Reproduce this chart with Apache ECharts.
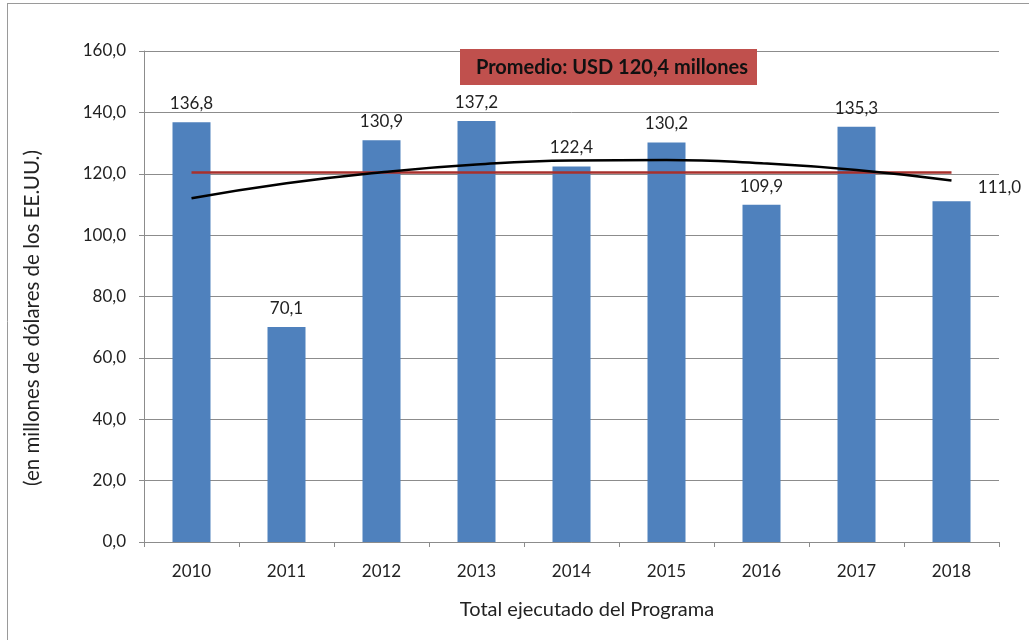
<!DOCTYPE html>
<html>
<head>
<meta charset="utf-8">
<script src="https://cdn.jsdelivr.net/npm/echarts@6/dist/echarts.min.js"></script>
<style>html,body{margin:0;padding:0;background:#fff}#c{width:1029px;height:640px}</style>
</head>
<body>
<div id="c"></div>
<script>
const categories = ['2010','2011','2012','2013','2014','2015','2016','2017','2018'];
const totals = [136.8, 70.1, 130.9, 137.2, 122.4, 130.2, 109.9, 135.3, 111.0];
const averageValue = 120.4;
const trendValues = [112.0, 116.9, 120.5, 123.0, 124.3, 124.5, 123.4, 121.2, 117.8];
const yTicks = { min: 0, max: 160, interval: 20 };
const avgLabel = 'Promedio: USD 120,4 millones';
const xTitle = 'Total ejecutado del Programa';
const yTitle = '(en millones de dólares de los EE.UU.)';

const FONT = 'Lato, "Noto Sans", sans-serif';
const fmt = v => v.toFixed(1).replace('.', ',');

const chart = echarts.init(document.getElementById('c'), null, { renderer: 'canvas' });

const barData = totals.map((v, i) => {
  const item = { value: v };
  if (i === totals.length - 1) item.label = { offset: [48, 5] };
  return item;
});

chart.setOption({
  animation: false,
  backgroundColor: '#ffffff',
  grid: { left: 144, right: 30, top: 51, bottom: 98 },
  xAxis: {
    type: 'category',
    data: categories,
    axisLine: { lineStyle: { color: '#8c8c8c', width: 1 } },
    axisTick: { show: true, length: 5, alignWithLabel: false, lineStyle: { color: '#8c8c8c' } },
    axisLabel: { color: '#222', fontSize: 17, fontFamily: FONT, margin: 21 }
  },
  yAxis: {
    type: 'value',
    min: yTicks.min, max: yTicks.max, interval: yTicks.interval,
    axisLine: { show: true, lineStyle: { color: '#8c8c8c', width: 1 } },
    axisTick: { show: true, length: 5, lineStyle: { color: '#8c8c8c' } },
    splitLine: { lineStyle: { color: '#8c8c8c', width: 1 } },
    axisLabel: { color: '#222', fontSize: 17, fontFamily: FONT, margin: 18, formatter: fmt }
  },
  series: [
    {
      type: 'bar',
      data: barData,
      barWidth: 38,
      itemStyle: { color: '#4F81BD' },
      label: {
        show: true, position: 'top', distance: 10,
        color: '#222', fontSize: 17, fontFamily: FONT,
        formatter: p => fmt(p.value)
      },
      z: 2
    },
    {
      type: 'line',
      data: categories.map(() => averageValue),
      symbol: 'none',
      lineStyle: { color: '#A8302C', width: 2.5 },
      z: 3
    },
    {
      type: 'line',
      data: trendValues,
      smooth: true,
      symbol: 'none',
      lineStyle: { color: '#000000', width: 2.5 },
      z: 4
    }
  ],
  graphic: [
    { type: 'line', shape: { x1: 7, y1: 3.5, x2: 1029, y2: 3.5 }, style: { stroke: '#9a9a9a', lineWidth: 1 }, z: 10 },
    { type: 'line', shape: { x1: 7.5, y1: 3, x2: 7.5, y2: 640 }, style: { stroke: '#9a9a9a', lineWidth: 1 }, z: 10 },
    {
      type: 'rect', left: 460, top: 49, shape: { width: 297, height: 36 },
      style: { fill: '#C0504D' }, z: 20
    },
    {
      type: 'text', x: 612, y: 68, z: 21,
      style: { text: avgLabel, fill: '#111', font: 'bold 20px ' + FONT, textAlign: 'center', textVerticalAlign: 'middle' }
    },
    {
      type: 'text', x: 587, y: 610, z: 21,
      style: { text: xTitle, fill: '#222', font: '20px ' + FONT, textAlign: 'center', textVerticalAlign: 'middle' }
    },
    {
      type: 'text', x: 32, y: 318, rotation: Math.PI / 2, z: 21,
      style: { text: yTitle, fill: '#222', font: '20.5px ' + FONT, textAlign: 'center', textVerticalAlign: 'middle' }
    }
  ]
});
</script>
</body>
</html>
